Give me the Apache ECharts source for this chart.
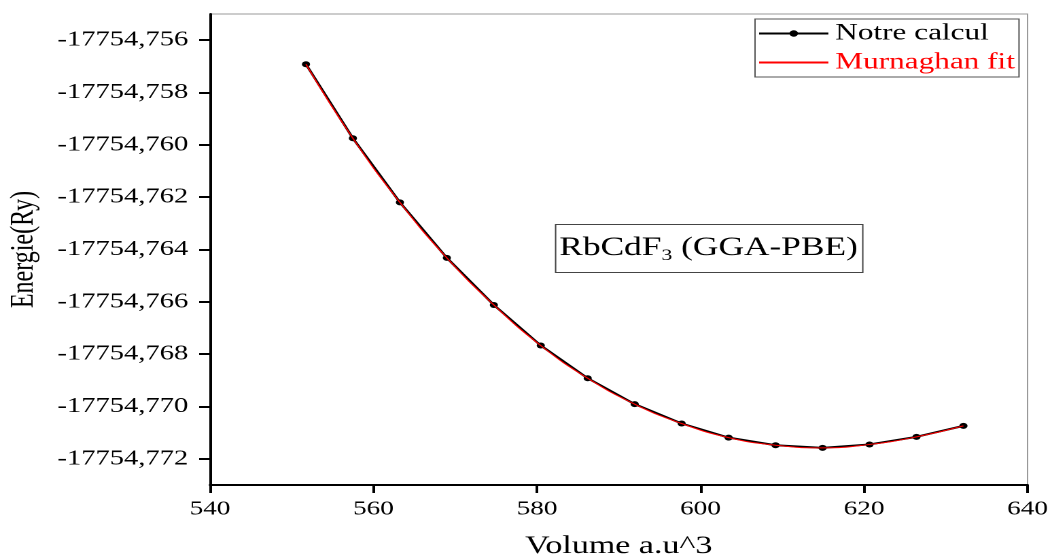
<!DOCTYPE html>
<html>
<head>
<meta charset="utf-8">
<script src="https://cdn.jsdelivr.net/npm/echarts@6/dist/echarts.min.js"></script>
<style>
  html, body { margin: 0; padding: 0; background: #fff; overflow: hidden; }
  #wrap { width: 1052px; height: 558px; overflow: hidden; }
  /* the figure is laid out narrower and widened horizontally, like the original export */
  #chart { width: 774px; height: 558px; transform: scaleX(1.35917); transform-origin: 0 0; }
</style>
</head>
<body>
<div id="wrap"><div id="chart"></div></div>
<script>
// Volume (a.u^3) and total energy (Ry)
const volume = [551.74, 557.48, 563.23, 568.97, 574.72, 580.46, 586.20, 591.95,
                597.69, 603.44, 609.18, 614.93, 620.67, 626.42, 632.16];
const energy = [-17754.75692, -17754.75975, -17754.76220, -17754.76432, -17754.76612,
                -17754.76767, -17754.76892, -17754.76991, -17754.77065, -17754.77119,
                -17754.77148, -17754.77158, -17754.77145, -17754.77116, -17754.77074];
// Murnaghan equation-of-state fit evaluated at the same volumes
const fitEnergy = [-17754.75692, -17754.75975, -17754.76220, -17754.76432, -17754.76612,
                   -17754.76767, -17754.76892, -17754.76991, -17754.77065, -17754.77119,
                   -17754.77148, -17754.77158, -17754.77145, -17754.77116, -17754.77074];
const yTicks = [-17754.756, -17754.758, -17754.760, -17754.762, -17754.764,
                -17754.766, -17754.768, -17754.770, -17754.772];
const xTicks = [540, 560, 580, 600, 620, 640];
const seriesNames = ['Notre calcul', 'Murnaghan fit'];

const FONT = '"Liberation Serif", "Times New Roman", serif';
const chart = echarts.init(document.getElementById('chart'), null, { devicePixelRatio: 2 });

const pairs = (xs, ys) => xs.map((x, i) => [x, ys[i]]);

chart.setOption({
  animation: false,
  backgroundColor: '#fff',
  textStyle: { fontFamily: FONT },
  grid: {
    left: 154.5, right: 18, top: 14, bottom: 73,
    outerBoundsMode: 'none',
    containLabel: false,
    show: true, borderColor: '#999', borderWidth: 1
  },
  legend: {
    orient: 'vertical',
    left: 555.5, top: 19,
    padding: [3, 3, 3, 2],
    itemGap: 6,
    itemWidth: 51,
    itemHeight: 8,
    borderColor: '#555',
    borderWidth: 1,
    textStyle: { fontFamily: FONT, fontSize: 23, color: '#000' },
    data: [
      { name: seriesNames[0] },
      { name: seriesNames[1], itemStyle: { opacity: 0 }, textStyle: { color: '#ff0000' } }
    ]
  },
  xAxis: {
    type: 'value',
    min: xTicks[0], max: xTicks[xTicks.length - 1], interval: 20,
    name: 'Volume a.u^3',
    nameLocation: 'middle',
    nameGap: 49,
    nameTextStyle: { fontFamily: FONT, fontSize: 25, color: '#000' },
    axisLine: { show: true, onZero: false, lineStyle: { color: '#000', width: 2 } },
    axisTick: { show: true, inside: false, length: 8, lineStyle: { color: '#000', width: 2 } },
    axisLabel: { fontFamily: FONT, fontSize: 20, color: '#000', margin: 14 },
    splitLine: { show: false }
  },
  yAxis: {
    type: 'value',
    min: -17754.773, max: -17754.755,
    scale: true,
    name: 'Energie(Ry)',
    nameLocation: 'middle',
    nameGap: 125,
    nameTextStyle: { fontFamily: FONT, fontSize: 24, color: '#000' },
    axisLine: { show: true, onZero: false, lineStyle: { color: '#000', width: 2 } },
    axisTick: { show: true, inside: false, length: 8, customValues: yTicks,
                lineStyle: { color: '#000', width: 2 } },
    axisLabel: {
      fontFamily: FONT, fontSize: 21, color: '#000', margin: 16,
      customValues: yTicks,
      formatter: v => v.toFixed(3).replace('.', ',')
    },
    splitLine: { show: false }
  },
  graphic: [
    {
      type: 'rect',
      left: 408.3, top: 224,
      shape: { width: 226, height: 48 },
      style: { fill: '#fff', stroke: '#444', lineWidth: 1 },
      z: 10
    },
    {
      type: 'text',
      x: 521.3, y: 248,
      z: 11,
      style: {
        text: '{a|RbCdF}{s|3}{a| (GGA-PBE)}',
        align: 'center',
        verticalAlign: 'middle',
        rich: {
          a: { fontFamily: FONT, fontSize: 26, lineHeight: 32, fill: '#000', verticalAlign: 'middle' },
          s: { fontFamily: FONT, fontSize: 16, lineHeight: 16, fill: '#000', verticalAlign: 'bottom' }
        }
      }
    }
  ],
  series: [
    {
      name: seriesNames[0],
      type: 'line',
      data: pairs(volume, energy),
      symbol: 'circle',
      symbolSize: 6,
      showSymbol: true,
      lineStyle: { color: '#000', width: 2 },
      itemStyle: { color: '#000' },
      z: 3
    },
    {
      name: seriesNames[1],
      type: 'line',
      data: pairs(volume, fitEnergy),
      smooth: true,
      symbol: 'none',
      lineStyle: { color: '#ff0000', width: 1 },
      itemStyle: { color: '#ff0000' },
      z: 4
    }
  ]
});
</script>
</body>
</html>
